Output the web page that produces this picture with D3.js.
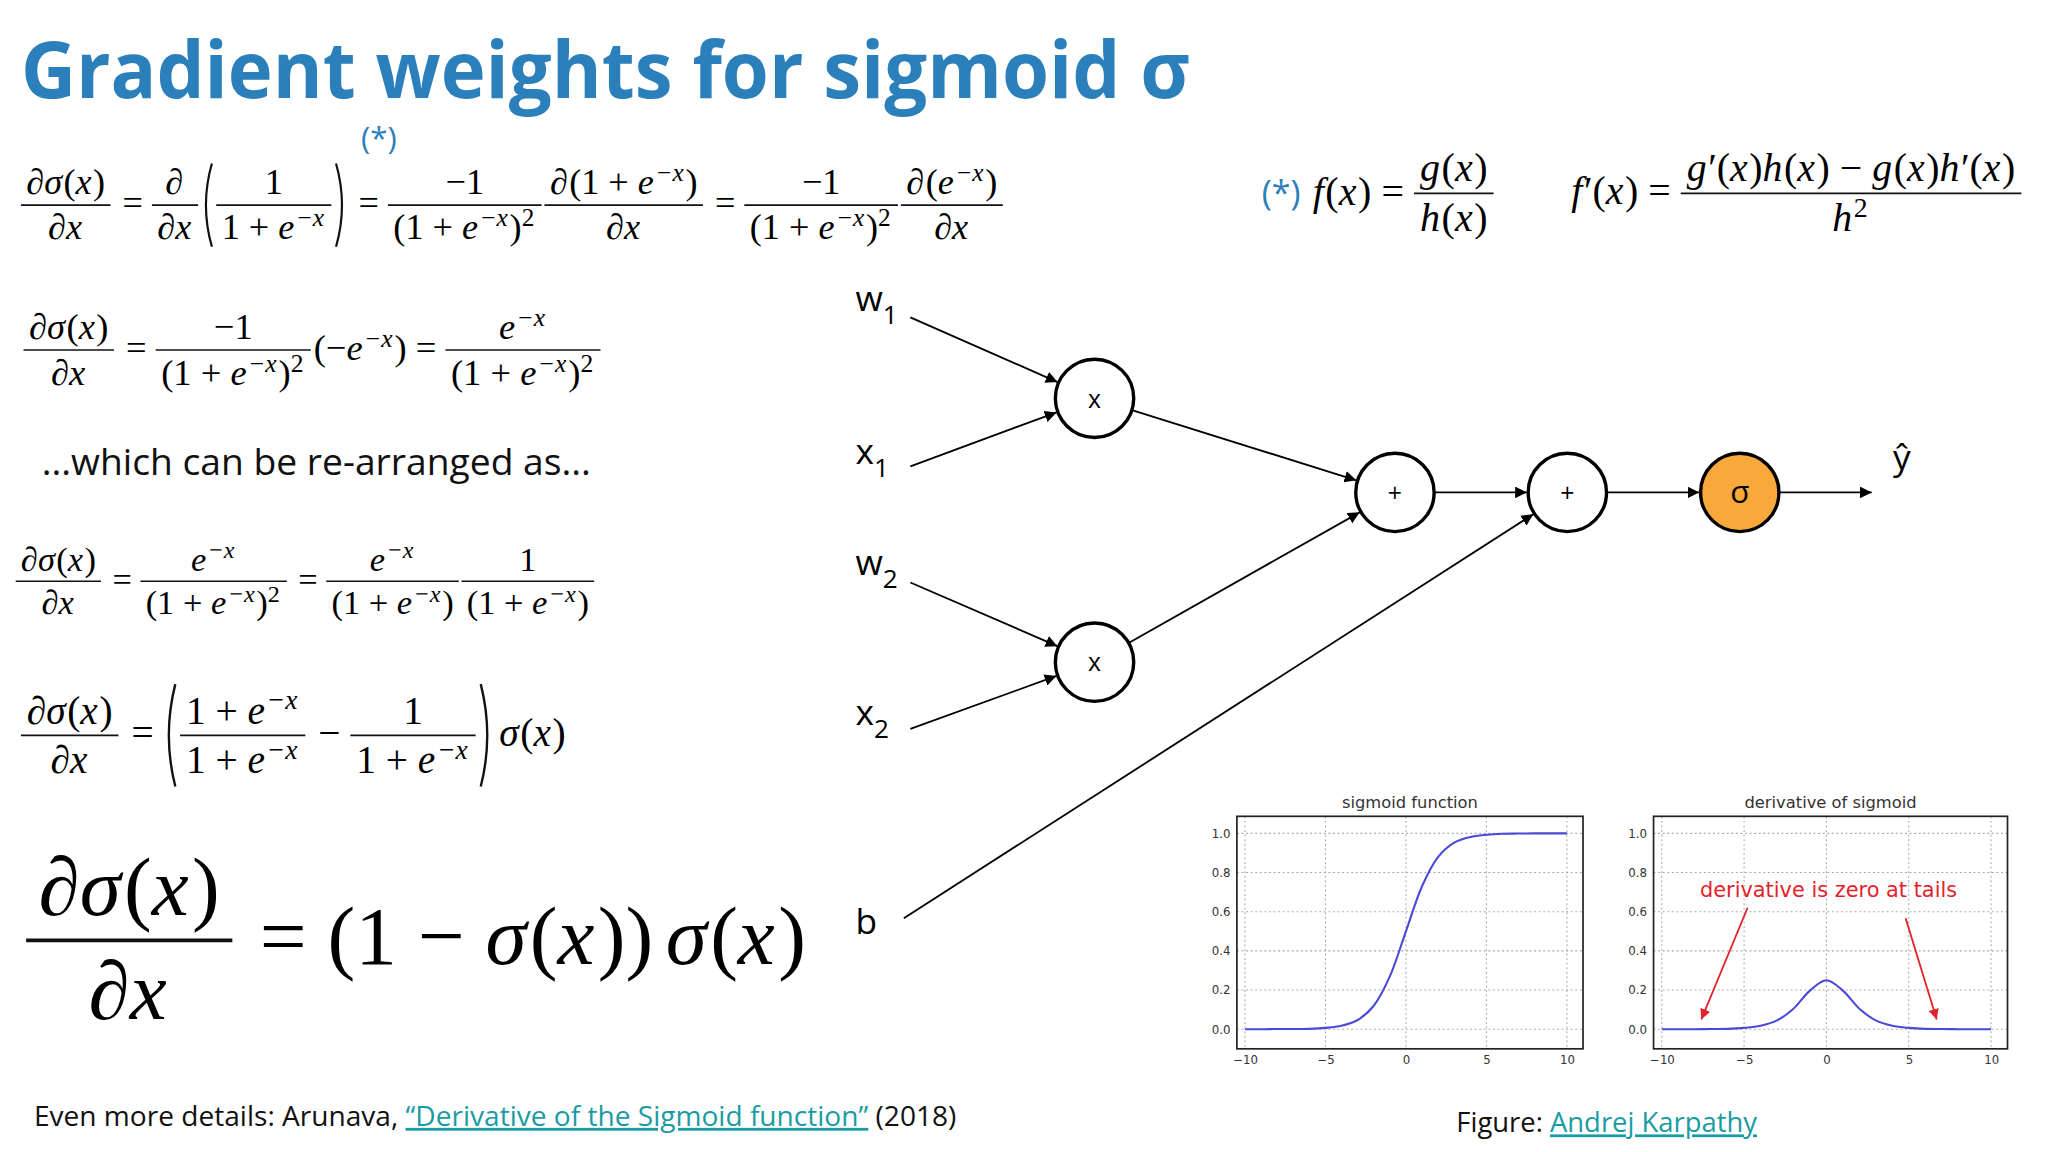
<!DOCTYPE html>
<html lang="en">
<head>
<meta charset="UTF-8">
<script src="https://d3js.org/d3.v7.min.js"></script>
<title>Gradient weights for sigmoid</title>
<style>
body { margin: 0; background: #fff; }
svg { display: block; }
.ui { font-family: 'Open Sans', sans-serif; }
.math { font-family: 'Liberation Serif', 'Times New Roman', Tinos, 'Noto Serif', 'DejaVu Serif', serif; }
.tick text { font-family: 'DejaVu Sans', sans-serif; font-size: 9px; fill: #333; }
</style>
</head>
<body>
<svg id="slide" width="2048" height="1152" viewBox="0 0 1568 882"></svg>
<script>
// ---- data ----
let sigX = [-10,-9,-8,-7,-6,-5,-4,-3,-2,-1,0,1,2,3,4,5,6,7,8,9,10]
let sigY = [0,0,0.001,0.001,0.002,0.007,0.018,0.047,0.12,0.27,0.5,0.73,0.88,0.953,0.982,0.993,0.998,0.999,1,1,1]
let dSigY = [0,0,0,0.001,0.002,0.007,0.018,0.045,0.105,0.197,0.25,0.197,0.105,0.045,0.018,0.007,0.002,0.001,0,0,0]
let xTicks = [-10,-5,0,5,10]
let yTicks = [0,0.2,0.4,0.6,0.8,1.0]

let nodes = [
  {id:'m1', x:838, y:305, label:'x'},
  {id:'m2', x:838, y:507, label:'x'},
  {id:'p1', x:1068, y:377, label:'+'},
  {id:'p2', x:1200, y:377, label:'+'},
  {id:'s', x:1332, y:377, label:'σ', fill:'#f9a83c'}
]
let inputs = [
  {name:'w', sub:'1', x:655, y:238, ax:697, ay:243, to:'m1'},
  {name:'x', sub:'1', x:655, y:355, ax:697, ay:357, to:'m1'},
  {name:'w', sub:'2', x:655, y:440, ax:697, ay:446, to:'m2'},
  {name:'x', sub:'2', x:655, y:555, ax:697, ay:558, to:'m2'},
  {name:'b', sub:'', x:655, y:715, ax:692, ay:703, to:'p2'}
]
let links = [['m1','p1'],['m2','p1'],['p1','p2'],['p2','s']]

let svg = d3.select('#slide')
let blue = '#2b80bb'

// ---- tiny equation layout ----
let R = s => ({k:'r', s})
let I = s => ({k:'i', s})
let S = (s, rom) => ({k:'sup', s, rom})
let F = (n, d) => ({k:'f', n, d})
let P = (s, h) => ({k:'p', s, h})
let SP = w => ({k:'sp', w})
let E = [I('e'), S('−x')]

let layout = (g, items, size) => {
  let x = 0
  items.forEach(it => {
    if (it.k === 'r' || it.k === 'i') {
      let t = g.append('text').attr('class', 'math').attr('x', x).attr('y', 0)
        .attr('font-size', size).attr('font-style', it.k === 'i' ? 'italic' : 'normal')
        .attr('xml:space','preserve').text(it.s)
      x += t.node().getComputedTextLength() + (it.k === 'i' ? size * 0.04 : 0)
    } else if (it.k === 'sup') {
      let t = g.append('text').attr('class', 'math').attr('x', x).attr('y', -size * 0.36)
        .attr('font-size', size * 0.7).attr('font-style', it.rom ? 'normal' : 'italic').text(it.s)
      x += t.node().getComputedTextLength() + size * 0.05
    } else if (it.k === 'f') {
      let gn = g.append('g'), gd = g.append('g')
      let wn = layout(gn, it.n, size), wd = layout(gd, it.d, size)
      let W = Math.max(wn, wd) + size * 0.3
      let axis = -size * 0.28
      g.append('line').attr('x1', x).attr('x2', x + W).attr('y1', axis).attr('y2', axis)
        .attr('stroke', '#111').attr('stroke-width', size * 0.045)
      gn.attr('transform', `translate(${x + (W - wn) / 2},${axis - size * 0.3})`)
      gd.attr('transform', `translate(${x + (W - wd) / 2},${axis + size * 0.95})`)
      x += W + size * 0.08
    } else if (it.k === 'p') {
      let H = size * it.h, axis = -size * 0.28, w = size * 0.3
      let left = it.s === '('
      let x0 = left ? x + w : x + size * 0.05, x1 = left ? x + size * 0.02 : x + w + size * 0.03
      g.append('path').attr('d', `M${x0},${axis - H / 2} Q${x1 + (left ? -size*0.05 : size*0.05)},${axis} ${x0},${axis + H / 2}`)
        .attr('fill', 'none').attr('stroke', '#111').attr('stroke-width', size * 0.06)
      x += w + size * 0.12
    } else if (it.k === 'sp') {
      x += it.w * size
    }
  })
  return x
}

let place = (items, x0, x1, axisY, size) => {
  let g = svg.append('g')
  let inner = g.append('g')
  let w = layout(inner, items, size)
  let s = (x1 - x0) / w
  g.attr('transform', `translate(${x0},${axisY + size * 0.28 * s}) scale(${s})`)
  return g
}

let dsig = F([I('∂σ'), R('('), I('x'), R(')')], [I('∂x')])
let onePlus = [R('1 + '), ...E]
let onePlusSq = [R('(1 + '), ...E, R(')'), S('2', true)]
let EQ = R(' = ')

// ---- title ----
svg.append('text').attr('class','ui').attr('x', 16).attr('y', 75)
  .attr('font-size', 60).attr('font-weight', 'bold').attr('fill', blue)
  .attr('textLength', 895).attr('lengthAdjust', 'spacingAndGlyphs')
  .text('Gradient weights for sigmoid σ')
svg.append('text').attr('class','ui').attr('x', 290).attr('y', 114).attr('text-anchor','middle')
  .attr('font-size', 24).attr('fill', blue).text('(*)')

// ---- formulas ----
place([dsig, EQ, F([I('∂')], [I('∂x')]), P('(', 2.3), F([R('1')], onePlus), P(')', 2.3), EQ,
  F([R('−1')], onePlusSq), F([I('∂'), R('(1 + '), ...E, R(')')], [I('∂x')]), EQ,
  F([R('−1')], onePlusSq), F([I('∂'), R('('), ...E, R(')')], [I('∂x')])], 16, 770, 157, 24)

place([dsig, EQ, F([R('−1')], onePlusSq), R('(−'), ...E, R(')'), EQ, F(E, onePlusSq)], 18, 462, 268, 24)

svg.append('text').attr('class','ui').attr('x', 32).attr('y', 364).attr('font-size', 28.5)
  .attr('fill', '#111').text('...which can be re-arranged as...')

place([dsig, EQ, F(E, onePlusSq), EQ, F(E, [R('(1 + '), ...E, R(')')]),
  F([R('1')], [R('(1 + '), ...E, R(')')])], 12, 457, 445, 24)

place([dsig, EQ, P('(', 2.6), F(onePlus, onePlus), R(' − '), F([R('1')], onePlus), P(')', 2.6),
  SP(0.1), I('σ'), R('('), I('x'), R(')')], 16, 433, 563, 24)

place([dsig, EQ, R('(1 − '), I('σ'), R('('), I('x'), R('))'), SP(0.15), I('σ'), R('('), I('x'), R(')')],
  20, 617, 720, 52)

svg.append('text').attr('class','ui').attr('x', 966).attr('y', 157).attr('font-size', 26)
  .attr('fill', blue).text('(*)')
place([I('f'), R('('), I('x'), R(')'), EQ, F([I('g'), R('('), I('x'), R(')')], [I('h'), R('('), I('x'), R(')')])],
  1005, 1146, 148, 24)
place([I('f'), R('′('), I('x'), R(')'), EQ,
  F([I('g'), R('′('), I('x'), R(')'), I('h'), R('('), I('x'), R(') − '), I('g'), R('('), I('x'), R(')'), I('h'), R('′('), I('x'), R(')')],
    [I('h'), S('2', true)])], 1203, 1550, 148, 24)

// ---- computational graph ----
let defs = svg.append('defs')
defs.append('marker').attr('id', 'arr').attr('viewBox', '0 0 10 10').attr('refX', 10).attr('refY', 5)
  .attr('markerWidth', 9).attr('markerHeight', 9).attr('markerUnits', 'userSpaceOnUse').attr('orient', 'auto')
  .append('path').attr('d', 'M0,0 L10,5 L0,10 z').attr('fill', '#000')
defs.append('marker').attr('id', 'arrRed').attr('viewBox', '0 0 10 10').attr('refX', 10).attr('refY', 5)
  .attr('markerWidth', 8).attr('markerHeight', 8).attr('markerUnits', 'userSpaceOnUse').attr('orient', 'auto')
  .append('path').attr('d', 'M0,0 L10,5 L0,10 z').attr('fill', '#e3222b')

let byId = Object.fromEntries(nodes.map(n => [n.id, n]))
let rad = 30
let edge = (x1, y1, x2, y2, r1, r2) => {
  let dx = x2 - x1, dy = y2 - y1, L = Math.hypot(dx, dy)
  svg.append('line').attr('x1', x1 + dx / L * r1).attr('y1', y1 + dy / L * r1)
    .attr('x2', x2 - dx / L * r2).attr('y2', y2 - dy / L * r2)
    .attr('stroke', '#000').attr('stroke-width', 1.4).attr('marker-end', 'url(#arr)')
}
inputs.forEach(d => {
  let n = byId[d.to]
  edge(d.ax, d.ay, n.x, n.y, 0, rad + 1)
  let t = svg.append('text').attr('class','ui').attr('x', d.x).attr('y', d.y).attr('font-size', 27).attr('fill', '#000').text(d.name)
  t.append('tspan').attr('dy', 10).attr('font-size', 20).text(d.sub)
})
links.forEach(([a, b]) => edge(byId[a].x, byId[a].y, byId[b].x, byId[b].y, rad, rad + 1))
edge(1362, 377, 1433, 377, 0, 0)
svg.append('text').attr('class','ui').attr('x', 1456).attr('y', 360).attr('text-anchor','middle')
  .attr('font-size', 27).text('ŷ')
let ng = svg.selectAll('g.node').data(nodes).enter().append('g').attr('class', 'node')
  .attr('transform', d => `translate(${d.x},${d.y})`)
ng.append('circle').attr('r', rad).attr('fill', d => d.fill || '#fff').attr('stroke', '#000').attr('stroke-width', 2.6)
ng.append('text').attr('class','ui').attr('text-anchor','middle').attr('dy', d => d.id === 's' ? 8 : 7)
  .attr('font-size', d => d.id === 's' ? 24 : 19).text(d => d.label)

// ---- small plots ----
let plot = (x0, x1, title, ys) => {
  let top = 625, bottom = 803
  let xs = d3.scaleLinear().domain([-10.5, 11]).range([x0, x1])
  let yScale = d3.scaleLinear().domain([-0.1, 1.087]).range([bottom, top])
  let g = svg.append('g')
  g.append('g').selectAll('line').data(xTicks).enter().append('line')
    .attr('x1', d => xs(d)).attr('x2', d => xs(d)).attr('y1', top).attr('y2', bottom)
    .attr('stroke', '#aaa').attr('stroke-width', 0.8).attr('stroke-dasharray', '1.5,2')
  g.append('g').selectAll('line').data(yTicks).enter().append('line')
    .attr('x1', x0).attr('x2', x1).attr('y1', d => yScale(d)).attr('y2', d => yScale(d))
    .attr('stroke', '#aaa').attr('stroke-width', 0.8).attr('stroke-dasharray', '1.5,2')
  g.append('path').datum(sigX.map((x, i) => [x, ys[i]]))
    .attr('d', d3.line().x(d => xs(d[0])).y(d => yScale(d[1])).curve(d3.curveCatmullRom))
    .attr('fill', 'none').attr('stroke', '#4a4ad8').attr('stroke-width', 1.6)
  g.append('rect').attr('x', x0).attr('y', top).attr('width', x1 - x0).attr('height', bottom - top)
    .attr('fill', 'none').attr('stroke', '#222').attr('stroke-width', 1.3)
  g.append('g').attr('transform', `translate(0,${bottom})`)
    .call(d3.axisBottom(xs).tickValues(xTicks).tickSize(0).tickPadding(5).tickFormat(d => d < 0 ? '−' + (-d) : d))
    .call(a => a.select('.domain').remove())
  g.append('g').attr('transform', `translate(${x0},0)`)
    .call(d3.axisLeft(yScale).tickValues(yTicks).tickSize(0).tickPadding(5).tickFormat(d3.format('.1f')))
    .call(a => a.select('.domain').remove())
  g.append('text').attr('x', (x0 + x1) / 2).attr('y', 619).attr('text-anchor','middle')
    .attr('font-family', 'DejaVu Sans').attr('font-size', 12.5).attr('fill', '#333').text(title)
  return {xs, yScale}
}
plot(947, 1212, 'sigmoid function', sigY)
let p2 = plot(1266, 1537, 'derivative of sigmoid', dSigY)
svg.append('text').attr('x', 1400).attr('y', 687).attr('text-anchor','middle')
  .attr('font-family', 'DejaVu Sans').attr('font-size', 16).attr('fill', '#e3222b').text('derivative is zero at tails')
;[[1338, 695, p2.xs(-7.6), p2.yScale(0.05)], [1459, 703, p2.xs(6.7), p2.yScale(0.05)]].forEach(a => {
  svg.append('line').attr('x1', a[0]).attr('y1', a[1]).attr('x2', a[2]).attr('y2', a[3])
    .attr('stroke', '#e3222b').attr('stroke-width', 1.4).attr('marker-end', 'url(#arrRed)')
})

// ---- footer ----
let f1 = svg.append('text').attr('class','ui').attr('x', 26).attr('y', 862).attr('font-size', 21.5).attr('fill', '#111')
f1.append('tspan').text('Even more details: Arunava, ')
f1.append('tspan').attr('fill', '#1a9ba3').attr('text-decoration', 'underline').text('“Derivative of the Sigmoid function”')
f1.append('tspan').text(' (2018)')
let f2 = svg.append('text').attr('class','ui').attr('x', 1115).attr('y', 867).attr('font-size', 21).attr('fill', '#111')
f2.append('tspan').text('Figure: ')
f2.append('tspan').attr('fill', '#1a9ba3').attr('text-decoration', 'underline').text('Andrej Karpathy')
</script>
</body>
</html>
